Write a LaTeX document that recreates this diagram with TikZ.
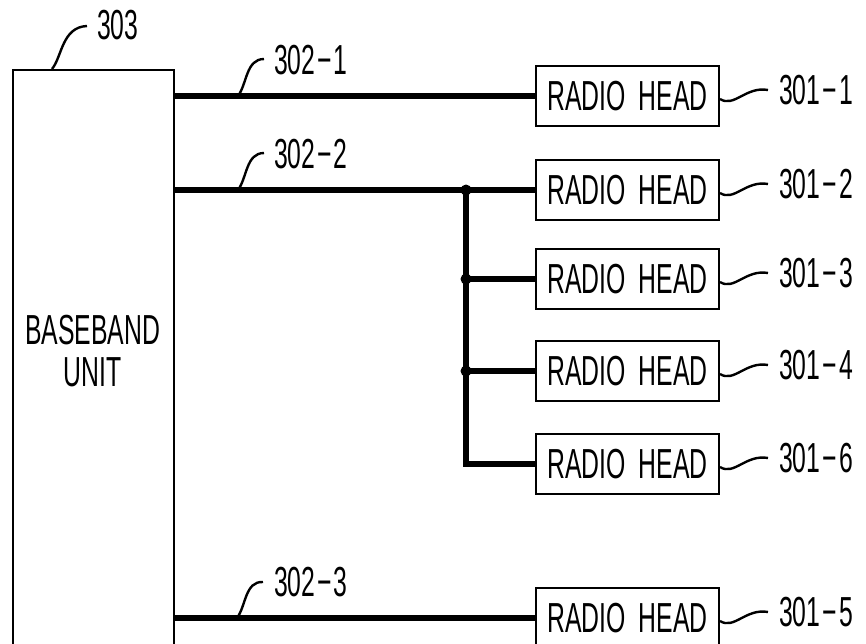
\documentclass[tikz,border=0pt]{standalone}
\usepackage{fontspec}
\newfontfamily\patfont[FakeStretch=0.59]{Liberation Sans}
\usetikzlibrary{calc}
\newcommand\pdash{\kern2pt−\kern2pt}
\begin{document}
\begin{tikzpicture}[x=1pt,y=-1pt,
  patent/.style={font=\patfont\fontsize{42}{42}\selectfont},
  rhbox/.style={draw, line width=2pt, minimum width=183pt, minimum height=60pt, inner sep=0pt, patent},
  bbbox/.style={draw, line width=2pt, minimum width=161pt, minimum height=640pt, inner sep=0pt, anchor=north west},
  bus/.style={line width=5.5pt},
  leader/.style={line width=2.4pt},
  reflabel/.style={patent, anchor=west, inner sep=0pt},
  jdot/.style={circle, fill, inner sep=0pt, minimum size=11pt}]
\useasboundingbox (0,0) rectangle (866,643);
\clip (0,0) rectangle (866,643);

% baseband unit
\node[bbbox] (bbu) at (12,69) {};
\node[patent, align=center] (bbut) at (92.5,351) {BASEBAND\\UNIT};
\coordinate (l303) at (52,69);
\node[reflabel] (n303) at (97,25) {303};
\draw[leader] (l303) .. controls (62,57) and (62,27) .. ($(n303.west)+(-10,1)$);

% radio heads
\node[rhbox] (rh1) at (627.5,96) {RADIO\hspace{0.3em}HEAD};
\node[rhbox] (rh2) at (627.5,190) {RADIO\hspace{0.3em}HEAD};
\node[rhbox] (rh3) at (627.5,279) {RADIO\hspace{0.3em}HEAD};
\node[rhbox] (rh4) at (627.5,371) {RADIO\hspace{0.3em}HEAD};
\node[rhbox] (rh6) at (627.5,464) {RADIO\hspace{0.3em}HEAD};
\node[rhbox] (rh5) at (627.5,618) {RADIO\hspace{0.3em}HEAD};

% buses
\draw[bus] (bbu.east |- rh1.west) -- (rh1.west);
\draw[bus] (bbu.east |- rh2.west) -- (rh2.west);
\draw[bus] (bbu.east |- rh5.west) -- (rh5.west);
\coordinate (j1) at (466,190);
\draw[bus] (j1) |- (rh6.west);
\draw[bus] (j1 |- rh3.west) -- (rh3.west);
\draw[bus] (j1 |- rh4.west) -- (rh4.west);
\node[jdot] (d1) at (j1) {};
\node[jdot] (d2) at (j1 |- rh3.west) {};
\node[jdot] (d3) at (j1 |- rh4.west) {};

% bus labels
\coordinate (l1) at (238,96);
\coordinate (l2) at (238,190);
\coordinate (l3) at (237,618);
\node[reflabel] (n3021) at (274,60) {302\pdash 1};
\node[reflabel] (n3022) at (274,154) {302\pdash 2};
\node[reflabel] (n3023) at (274,582) {302\pdash 3};
\draw[leader] (l1) .. controls (247,84) and (246,59) .. ($(n3021.west)+(-10,-1)$);
\draw[leader] (l2) .. controls (247,178) and (246,153) .. ($(n3022.west)+(-10,-1)$);
\draw[leader] (l3) .. controls (246,606) and (245,581) .. ($(n3023.west)+(-11,0)$);

% radio head labels
\foreach \r/\t in {rh1/1, rh2/2, rh3/3, rh4/4, rh6/6, rh5/5}{
  \draw[leader] ($(\r.east)+(0,3)$) .. controls ($(\r.east)+(14,12)$) and ($(\r.east)+(26,-10)$) .. ($(\r.east)+(48,-6)$)
    node[reflabel, xshift=10pt] (lab-\r) {301\pdash\t};
}
\end{tikzpicture}
\end{document}
